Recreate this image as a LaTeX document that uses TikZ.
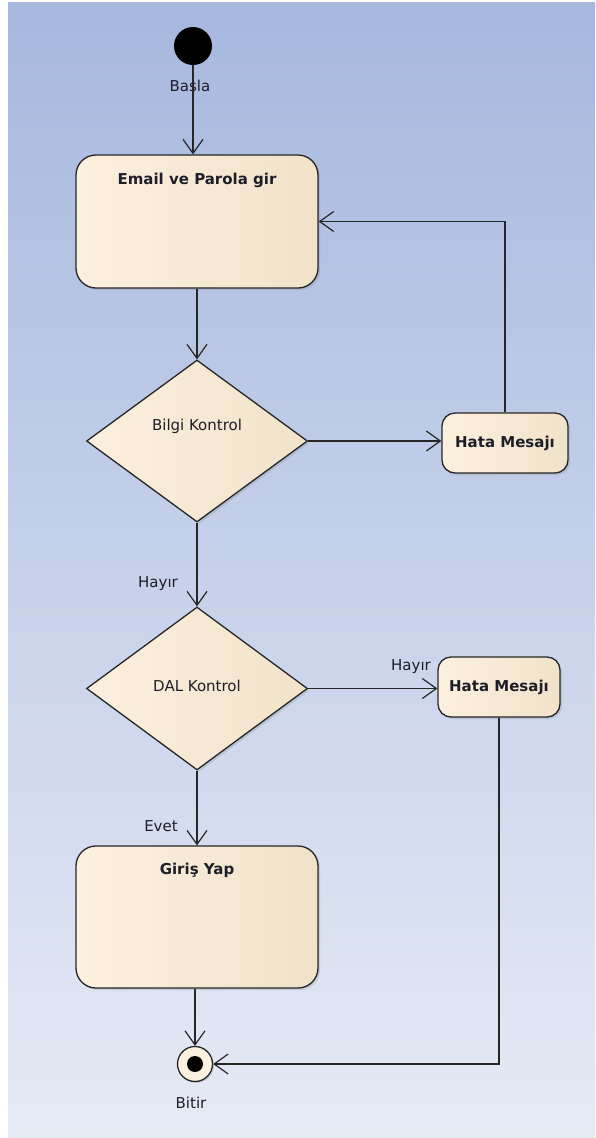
\documentclass[tikz,border=0pt]{standalone}
\usepackage{fontspec}
\setmainfont{DejaVu Sans}
\usetikzlibrary{shapes.geometric,arrows.meta,shadows}

\definecolor{bgtop}{RGB}{166,184,222}
\definecolor{bgbot}{RGB}{230,234,245}
\definecolor{boxl}{RGB}{252,240,222}
\definecolor{boxr}{RGB}{241,226,202}
\definecolor{edge}{RGB}{38,38,38}
\definecolor{txt}{RGB}{30,30,40}

\begin{document}
\begin{tikzpicture}[x=1pt,y=-1pt, font=\fontsize{15pt}{18pt}\selectfont, text=txt,
	act/.style={draw=edge, line width=1.3pt, left color=boxl, right color=boxr,
		drop shadow={opacity=0.25, shadow xshift=2pt, shadow yshift=-2pt}},
	bigact/.style={act, rounded corners=20pt, minimum width=242pt},
	smallact/.style={act, rounded corners=13pt, minimum height=60pt, font=\fontsize{15pt}{18pt}\selectfont\bfseries},
	decide/.style={diamond, draw=edge, line width=1.3pt, left color=boxl, right color=boxr,
		minimum width=221pt, minimum height=162pt, inner sep=0pt,
		drop shadow={opacity=0.25, shadow xshift=2pt, shadow yshift=-2pt}},
	flow/.style={draw=edge, line width=1.2pt, -{Straight Barb[length=14pt,width=20pt,line width=1.2pt]}},
	lbl/.style={inner sep=1pt}]

	% background
	\useasboundingbox (0,0) rectangle (595,1138);
	\fill[white] (0,0) rectangle (595,1138);
	\shade[top color=bgtop, bottom color=bgbot] (8,2) rectangle (595,1138);

	% start / end
	\node[circle, fill=black, minimum size=38pt, inner sep=0pt] (start) at (193,46) {};
	\node[lbl] (basla) at (190,86) {Basla};
	\node[circle, draw=edge, line width=1.3pt, fill=boxl, minimum size=35pt, inner sep=0pt,
		drop shadow={opacity=0.25, shadow xshift=1.5pt, shadow yshift=-1.5pt}] (stop) at (195,1064) {};
	\fill[black] (stop) circle (8pt);
	\node[lbl] (bitir) at (191,1103) {Bitir};

	% activities
	\node[bigact, minimum height=133pt,
		label={[anchor=center,yshift=-26pt,font=\fontsize{15pt}{18pt}\selectfont\bfseries]north:Email ve Parola gir}] (email) at (197,221.5) {};
	\node[decide, label={[yshift=15pt]center:Bilgi Kontrol}] (bilgi) at (197,441) {};
	\node[smallact, minimum width=126pt] (hata1) at (505,443) {Hata Mesajı};
	\node[decide, minimum height=163pt, label={[yshift=3pt]center:DAL Kontrol}] (dal) at (197,688.5) {};
	\node[smallact, minimum width=122pt] (hata2) at (499,687) {Hata Mesajı};
	\node[bigact, minimum height=142pt,
		label={[anchor=center,yshift=-25pt,font=\fontsize{15pt}{18pt}\selectfont\bfseries]north:Giriş Yap}] (giris) at (197,917) {};

	% guard labels
	\node[lbl] (hayir1) at (158,584) {Hayır};
	\node[lbl] (hayir2) at (411,667) {Hayır};
	\node[lbl] (evet) at (161,826) {Evet};

	% transitions
	\draw[flow] (start) -- (start |- email.north);
	\draw[flow] (email) -- (bilgi);
	\draw[flow] (bilgi.east) -- (bilgi.east -| hata1.west);
	\draw[flow] (hata1.north) |- (email);
	\draw[flow] (bilgi) -- (dal);
	\draw[flow] (dal.east) -- (dal.east -| hata2.west);
	\draw[flow] (dal) -- (giris);
	\draw[flow] (giris.south -| stop) -- (stop);
	\draw[flow] (hata2.south) |- (stop);

\end{tikzpicture}
\end{document}
